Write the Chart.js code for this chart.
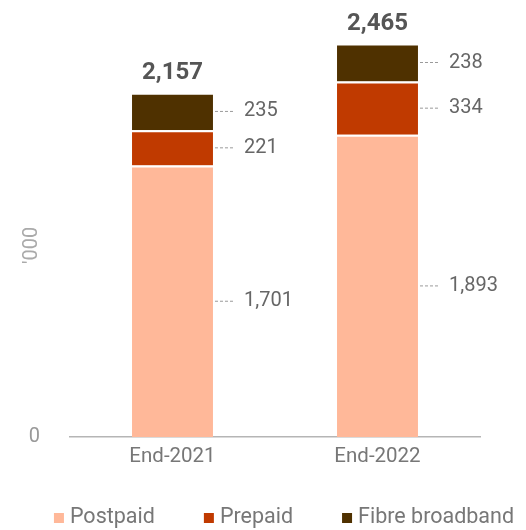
<!DOCTYPE html>
<html>
<head>
<meta charset="utf-8">
<script src="https://cdn.jsdelivr.net/npm/chart.js@4"></script>
<style>
  body { margin: 0; background: #fff; }
  #wrap { width: 526px; height: 530px; }
</style>
</head>
<body>
<div id="wrap"><canvas id="myChart"></canvas></div>
<script>
// data
const categories = ["End-2021", "End-2022"];
const seriesNames = ["Postpaid", "Prepaid", "Fibre broadband"];
const postpaid = [1701, 1893];
const prepaid = [221, 334];
const fibre = [235, 238];
const yTicks = [0];
const yMax = 2700;
const yTitle = "'000";

const colors = ["#ffb899", "#c03a00", "#4f3100"];
const ctx = document.getElementById("myChart");

Chart.defaults.font.family = "Roboto";

function fmt(v) {
  return v.toLocaleString("en-US");
}

// leader lines, segment values, totals, y title and legend row
const labelsPlugin = {
  id: "labelsPlugin",
  afterDatasetsDraw(chart) {
    const c = chart.ctx;
    const n = chart.data.datasets.length;
    c.save();
    chart.data.datasets.forEach(function (ds, i) {
      const meta = chart.getDatasetMeta(i);
      meta.data.forEach(function (bar, j) {
        const p = bar.getProps(["x", "y", "base", "width"], true);
        const right = p.x + p.width / 2;
        const cy = (p.y + p.base) / 2;
        c.strokeStyle = "#9a9a9a";
        c.lineWidth = 1;
        c.setLineDash([3, 2]);
        c.beginPath();
        c.moveTo(right + 2, cy);
        c.lineTo(right + 20, cy);
        c.stroke();
        c.setLineDash([]);
        c.fillStyle = "#666";
        c.font = "20px Roboto";
        c.textAlign = "left";
        c.textBaseline = "middle";
        c.fillText(fmt(ds.data[j]), right + 31, cy);
      });
    });
    // totals
    const top = chart.getDatasetMeta(n - 1);
    top.data.forEach(function (bar, j) {
      let total = 0;
      chart.data.datasets.forEach(function (ds) {
        total += ds.data[j];
      });
      c.fillStyle = "#555";
      c.font = "bold 24px Roboto";
      c.textAlign = "center";
      c.textBaseline = "bottom";
      c.fillText(fmt(total), bar.x, bar.y - 8);
    });

    // legend row
    c.font = "21.5px Roboto";
    c.textBaseline = "middle";
    c.textAlign = "left";
    const gap = 49;
    const widths = chart.data.datasets.map(function (ds) {
      return 16 + c.measureText(ds.label).width;
    });
    const rowW = widths.reduce(function (a, b) { return a + b; }, 0) + gap * (widths.length - 1);
    let lx = 284 - rowW / 2;
    chart.data.datasets.forEach(function (ds, i) {
      c.fillStyle = ds.backgroundColor;
      c.fillRect(lx, 513, 10, 10);
      c.fillStyle = "#777";
      c.fillText(ds.label, lx + 16, 518);
      lx += widths[i] + gap;
    });

    // y title
    const ys = chart.scales.y;
    c.translate(32, ys.getPixelForValue(1200));
    c.rotate(-Math.PI / 2);
    c.fillStyle = "#aaa";
    c.font = "20px Roboto";
    c.textAlign = "center";
    c.textBaseline = "middle";
    c.fillText(yTitle, 0, 0);
    c.restore();
  },
};

const seriesData = [postpaid, prepaid, fibre];

new Chart(ctx, {
  type: "bar",
  data: {
    labels: categories,
    datasets: seriesNames.map(function (name, i) {
      return {
        label: name,
        data: seriesData[i],
        backgroundColor: colors[i],
        borderColor: "#fff",
        borderWidth: { top: 2, right: 0, bottom: 0, left: 0 },
        borderSkipped: false,
        barPercentage: 0.5,
        categoryPercentage: 0.79,
      };
    }),
  },
  options: {
    responsive: true,
    maintainAspectRatio: false,
    animation: false,
    layout: { autoPadding: false, padding: { left: 0, top: 6, right: 46, bottom: 63 } },
    plugins: {
      tooltip: { enabled: false },
      legend: { display: false },
    },
    scales: {
      x: {
        stacked: true,
        grid: { display: false },
        border: { display: true, color: "#b5b5b5", width: 1.5 },
        ticks: { color: "#777", font: { size: 20.5 }, padding: 0 },
        afterFit: function (s) {
          s.height = 30;
        },
      },
      y: {
        stacked: true,
        min: 0,
        max: yMax,
        grid: { display: false },
        border: { display: false },
        ticks: { color: "#999", font: { size: 20 }, padding: 22 },
        afterBuildTicks: function (s) {
          s.ticks = yTicks.map(function (v) {
            return { value: v };
          });
        },
        afterFit: function (s) {
          s.width = 70;
          s.paddingTop = 0;
          s.paddingBottom = 0;
        },
      },
    },
  },
  plugins: [labelsPlugin],
});
</script>
</body>
</html>
